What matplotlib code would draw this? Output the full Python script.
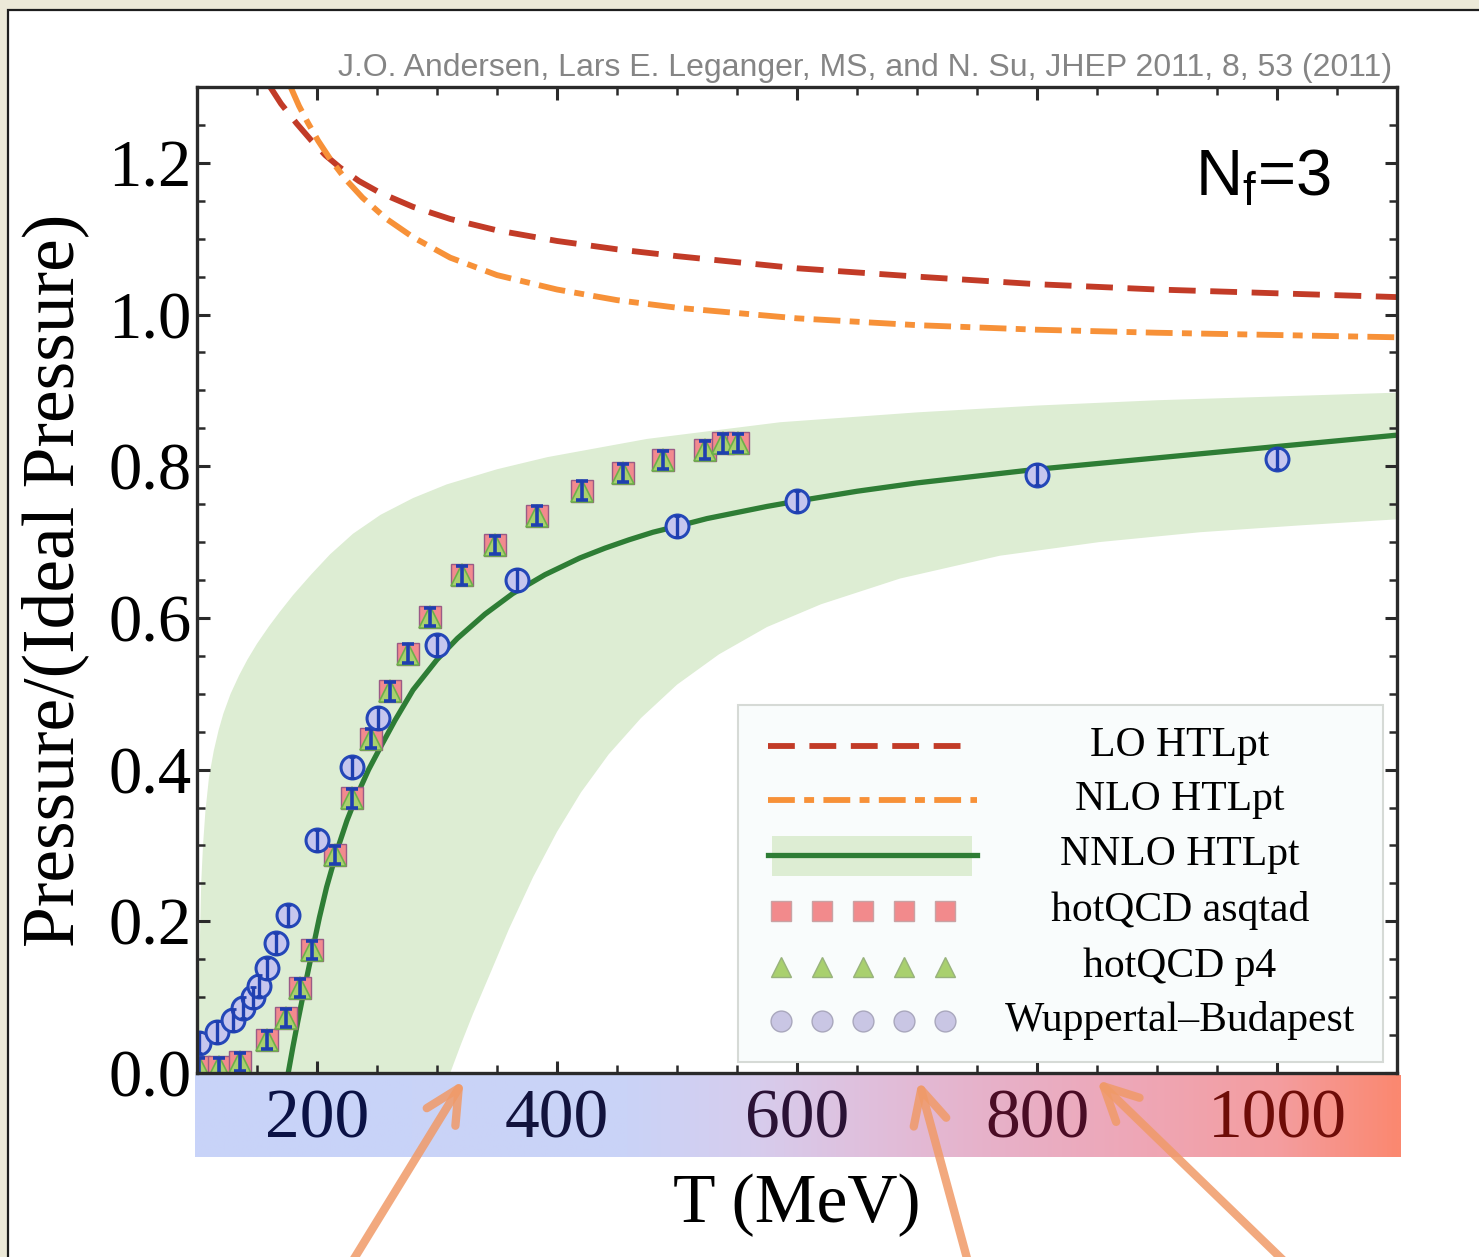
import numpy as np
import matplotlib
matplotlib.use('Agg')
import matplotlib.pyplot as plt
from matplotlib.patches import Rectangle, FancyArrowPatch
from matplotlib.colors import LinearSegmentedColormap
from matplotlib.ticker import MultipleLocator, FormatStrFormatter

# ---------------- data ----------------
lo_T = [161, 170, 183, 195, 207, 219, 235, 252, 280, 311, 350, 400, 450, 500, 600, 700, 800, 900, 1000, 1100]
lo_P = [1.300, 1.278, 1.252, 1.230, 1.210, 1.194, 1.176, 1.161, 1.142, 1.126, 1.111, 1.097, 1.086, 1.077, 1.061, 1.050, 1.040, 1.033, 1.028, 1.023]

nlo_T = [178, 185, 192, 201, 211, 224, 238, 258, 280, 311, 350, 400, 450, 500, 600, 700, 800, 900, 1000, 1100]
nlo_P = [1.300, 1.275, 1.254, 1.229, 1.205, 1.178, 1.154, 1.126, 1.102, 1.075, 1.052, 1.033, 1.019, 1.009, 0.995, 0.986, 0.980, 0.976, 0.973, 0.970]

nnlo_T = [176, 180, 184, 190, 196, 202, 208, 217, 225, 233, 243, 253, 265, 280, 300, 317, 340, 363, 390, 419,
          440, 460, 480, 503, 525, 550, 575, 600, 650, 700, 800, 900, 1000, 1100]
nnlo_P = [0.000, 0.035, 0.068, 0.115, 0.160, 0.205, 0.245, 0.295, 0.333, 0.365, 0.400, 0.430, 0.465, 0.505, 0.545, 0.573, 0.605, 0.632, 0.657, 0.679,
          0.692, 0.703, 0.713, 0.722, 0.731, 0.739, 0.747, 0.754, 0.767, 0.778, 0.796, 0.811, 0.826, 0.841]

band_up_T = [100.5, 101.5, 102.5, 103.5, 105, 107, 110, 114, 118, 122, 128, 135, 142, 150, 160, 169, 180, 195,
             211, 230, 253, 280, 308, 350, 392, 475, 586, 700, 800, 900, 1000, 1100]
band_up_P = [0.000, 0.100, 0.180, 0.250, 0.300, 0.345, 0.390, 0.425, 0.452, 0.474, 0.500, 0.524, 0.545, 0.566, 0.589, 0.608, 0.630, 0.657,
             0.684, 0.711, 0.736, 0.758, 0.776, 0.796, 0.812, 0.836, 0.858, 0.871, 0.880, 0.887, 0.892, 0.897]
band_lo_T = [311, 320, 330, 344, 360, 380, 400, 420, 443, 470, 500, 535, 575, 620, 686, 769, 852, 936, 1019, 1100]
band_lo_P = [0.000, 0.038, 0.078, 0.130, 0.190, 0.258, 0.318, 0.370, 0.420, 0.468, 0.512, 0.552, 0.588, 0.618, 0.652, 0.682, 0.700, 0.713, 0.722, 0.730]

hq_T = [102, 118, 136, 158, 174, 186, 196, 215, 229, 245, 261, 276, 294, 321, 348, 383, 421, 455, 488, 523, 538, 551]
hq_asqtad = [0.008, 0.008, 0.014, 0.043, 0.072, 0.112, 0.162, 0.287, 0.362, 0.441, 0.503, 0.553, 0.601, 0.656, 0.696, 0.735, 0.768, 0.791, 0.808, 0.821, 0.830, 0.831]
hq_p4 = [0.008, 0.008, 0.014, 0.043, 0.072, 0.112, 0.162, 0.287, 0.362, 0.441, 0.503, 0.553, 0.601, 0.656, 0.696, 0.735, 0.768, 0.791, 0.808, 0.821, 0.830, 0.831]
hq_err = [0.012] * len(hq_T)

wb_T = [102, 117, 130, 138, 147, 152, 158, 166, 176, 200, 229, 251, 300, 367, 500, 600, 800, 1000]
wb_P = [0.040, 0.054, 0.070, 0.086, 0.100, 0.115, 0.138, 0.171, 0.208, 0.307, 0.403, 0.468, 0.564, 0.650, 0.721, 0.754, 0.789, 0.810]
wb_err = [0.014] * len(wb_T)

x_ticks = [200, 400, 600, 800, 1000]
x_tick_colors = ['#0b1245', '#12133d', '#2a1235', '#4a0c25', '#6e0c08']
y_ticks = [0.0, 0.2, 0.4, 0.6, 0.8, 1.0, 1.2]

legend_labels = ['LO HTLpt', 'NLO HTLpt', 'NNLO HTLpt', 'hotQCD asqtad', 'hotQCD p4', 'Wuppertal\u2013Budapest']
citation = 'J.O. Andersen, Lars E. Leganger, MS, and N. Su, JHEP 2011, 8, 53 (2011)'

# ---------------- styles ----------------
C_LO = '#c23b27'
C_NLO = '#f79138'
C_NNLO = '#2e7d35'
C_BAND = '#ddedd3'
C_BLUE = '#1f3fb0'
SERIF = 'Liberation Serif'
SANS = 'Liberation Sans'

plt.rcParams['mathtext.fontset'] = 'custom'
plt.rcParams['mathtext.rm'] = SANS
plt.rcParams['mathtext.it'] = SANS + ':italic'

W, H, DPI = 1479, 1257, 100
fig = plt.figure(figsize=(W / DPI, H / DPI), dpi=DPI)
fig.patch.set_facecolor('#ece9d8')
panel = Rectangle((8 / W, -0.1), 1.2, 1.1 - 10 / H, transform=fig.transFigure,
                  facecolor='white', edgecolor='#1e1e1e', lw=1.6, zorder=-2)
fig.add_artist(panel)

# gradient strip under the x axis
sax = fig.add_axes([195 / W, 1 - 1157 / H, 1205 / W, 82 / H], zorder=-1)
stops = [(0.0, '#c8d3f9'), (0.36, '#cad3f7'), (0.46, '#d6cdee'), (0.56, '#e0bfdc'),
         (0.66, '#e7b1c9'), (0.78, '#eea7b7'), (0.90, '#f49d9f'), (1.0, '#fb8870')]
cmap = LinearSegmentedColormap.from_list('strip', stops)
sax.imshow(np.linspace(0, 1, 512)[None, :], aspect='auto', cmap=cmap, extent=(0, 1, 0, 1))
sax.set_axis_off()

ax = fig.add_axes([197 / W, 1 - 1073 / H, 1200 / W, 986 / H], zorder=0)
ax.set_facecolor('white')
ax.set_xlim(100, 1100)
ax.set_ylim(0, 1.3)

# band and curves
ax.fill(np.concatenate([band_up_T, band_lo_T[::-1]]),
        np.concatenate([band_up_P, band_lo_P[::-1]]),
        color=C_BAND, lw=0, zorder=1)
l_lo, = ax.plot(lo_T, lo_P, color=C_LO, lw=4.2, zorder=3, solid_capstyle='butt')
l_lo.set_dashes([4.6, 2.5])
l_nlo, = ax.plot(nlo_T, nlo_P, color=C_NLO, lw=4.2, zorder=3)
l_nlo.set_dashes([4.6, 1.6, 1.7, 1.6])
ax.plot(nnlo_T, nnlo_P, color=C_NNLO, lw=3.8, zorder=4, solid_capstyle='butt')

# lattice data
ax.plot(hq_T, hq_asqtad, 's', ms=16, mfc='#f28a8e', mec='#9a5a86', mew=1.0, zorder=5)
ax.plot(hq_T, hq_p4, '^', ms=16.5, mfc='#a9d06e', mec='#6cb04a', mew=1.2, zorder=6)
ax.errorbar(hq_T, hq_asqtad, yerr=hq_err, fmt='none', ecolor=C_BLUE, elinewidth=2.6,
            capsize=4.5, capthick=2.6, zorder=7)
ax.plot(wb_T, wb_P, 'o', ms=16.5, mfc='#c6c6ee', mec='#2447b8', mew=2.2, zorder=8)
ax.errorbar(wb_T, wb_P, yerr=wb_err, fmt='none', ecolor=C_BLUE, elinewidth=2.4,
            capsize=2.5, capthick=2.0, zorder=9)

# axes styling
for sp in ax.spines.values():
    sp.set_linewidth(2.4)
    sp.set_color('#2a2a2a')
    sp.set_zorder(10)
ax.xaxis.set_major_locator(MultipleLocator(200))
ax.xaxis.set_minor_locator(MultipleLocator(50))
ax.yaxis.set_major_locator(MultipleLocator(0.2))
ax.yaxis.set_minor_locator(MultipleLocator(0.05))
ax.set_xticks(x_ticks)
ax.set_yticks(y_ticks)
ax.yaxis.set_major_formatter(FormatStrFormatter('%.1f'))
ax.tick_params(which='both', direction='in', top=True, right=True, color='#2a2a2a')
ax.tick_params(which='major', length=9, width=2.2)
ax.tick_params(which='minor', length=5.5, width=1.8)
ax.tick_params(axis='x', which='major', labelsize=50, pad=11.5)
ax.tick_params(axis='y', which='major', labelsize=48, pad=4)
for lab in ax.get_xticklabels() + ax.get_yticklabels():
    lab.set_fontfamily(SERIF)
for lab, c in zip(ax.get_xticklabels(), x_tick_colors):
    lab.set_color(c)

ax.set_xlabel('T (MeV)', fontsize=50, fontfamily=SERIF, va='center')
ax.xaxis.set_label_coords(0.5, (1073 - 1205) / 986)
ax.set_ylabel('Pressure/(Ideal Pressure)', fontsize=53, fontfamily=SERIF, va='center')
ax.yaxis.set_label_coords((55 - 197) / 1200, 0.5)

# N_f = 3
fig.text(1195 / W, 1 - 196 / H, r'N$_\mathrm{f}$=3', fontsize=47, fontfamily=SANS,
         ha='left', va='baseline', color='black')
# citation
fig.text(1392 / W, 1 - 76 / H, citation, fontsize=23, fontfamily=SANS,
         ha='right', va='baseline', color='#858585')

# ---------------- manual legend ----------------
def axx(px):
    return (px - 197) / 1200.0

def axy(py):
    return (1073 - py) / 986.0

tA = ax.transAxes
ax.add_patch(Rectangle((axx(738), axy(1062)), axx(1383) - axx(738), axy(705) - axy(1062),
                       transform=tA, facecolor='#f9fcfc', edgecolor='#d6dad6', lw=1.5, zorder=11))
rows = [746, 800, 855, 911, 967, 1021]
h1, = ax.plot([axx(768), axx(962)], [axy(rows[0])] * 2, transform=tA, color=C_LO, lw=4.2, zorder=12, clip_on=False)
h1.set_dashes([4.6, 2.5])
h2, = ax.plot([axx(768), axx(977)], [axy(rows[1])] * 2, transform=tA, color=C_NLO, lw=4.2, zorder=12, clip_on=False)
h2.set_dashes([4.6, 1.6, 1.7, 1.6])
ax.add_patch(Rectangle((axx(772), axy(876)), axx(972) - axx(772), axy(836) - axy(876),
                       transform=tA, facecolor=C_BAND, lw=0, zorder=12))
ax.plot([axx(768), axx(977)], [axy(rows[2])] * 2, transform=tA, color=C_NNLO, lw=3.8, zorder=13, clip_on=False)
mx = [axx(v) for v in (781, 822, 863, 904, 945)]
ax.plot(mx, [axy(rows[3])] * 5, 's', transform=tA, ms=15, mfc='#f28a8c', mec='#c9a2a4', mew=1, zorder=13, clip_on=False)
ax.plot(mx, [axy(rows[4])] * 5, '^', transform=tA, ms=15, mfc='#a9d06e', mec='#98b27c', mew=1, zorder=13, clip_on=False)
ax.plot(mx, [axy(rows[5])] * 5, 'o', transform=tA, ms=15, mfc='#c9c6e4', mec='#a9a7bd', mew=1, zorder=13, clip_on=False)
for r, lab in zip(rows, legend_labels):
    ax.text(axx(1180), axy(r), lab, transform=tA, fontsize=30, fontfamily=SERIF,
            ha='center', va='center', zorder=14)

# ---------------- arrows ----------------
arrows = [((352, 1262), (465, 1078)), ((968, 1262), (918, 1078)), ((1285, 1262), (1095, 1078))]
for (x0, y0), (x1, y1) in arrows:
    a = FancyArrowPatch((x0 / W, 1 - y0 / H), (x1 / W, 1 - y1 / H), transform=fig.transFigure,
                        arrowstyle='->,head_length=1.1,head_width=0.55', mutation_scale=22,
                        color='#f09a68', lw=6, alpha=0.85, zorder=20,
                        capstyle='round', joinstyle='round')
    fig.add_artist(a)

fig.savefig('out.png', dpi=DPI, facecolor=fig.get_facecolor())
